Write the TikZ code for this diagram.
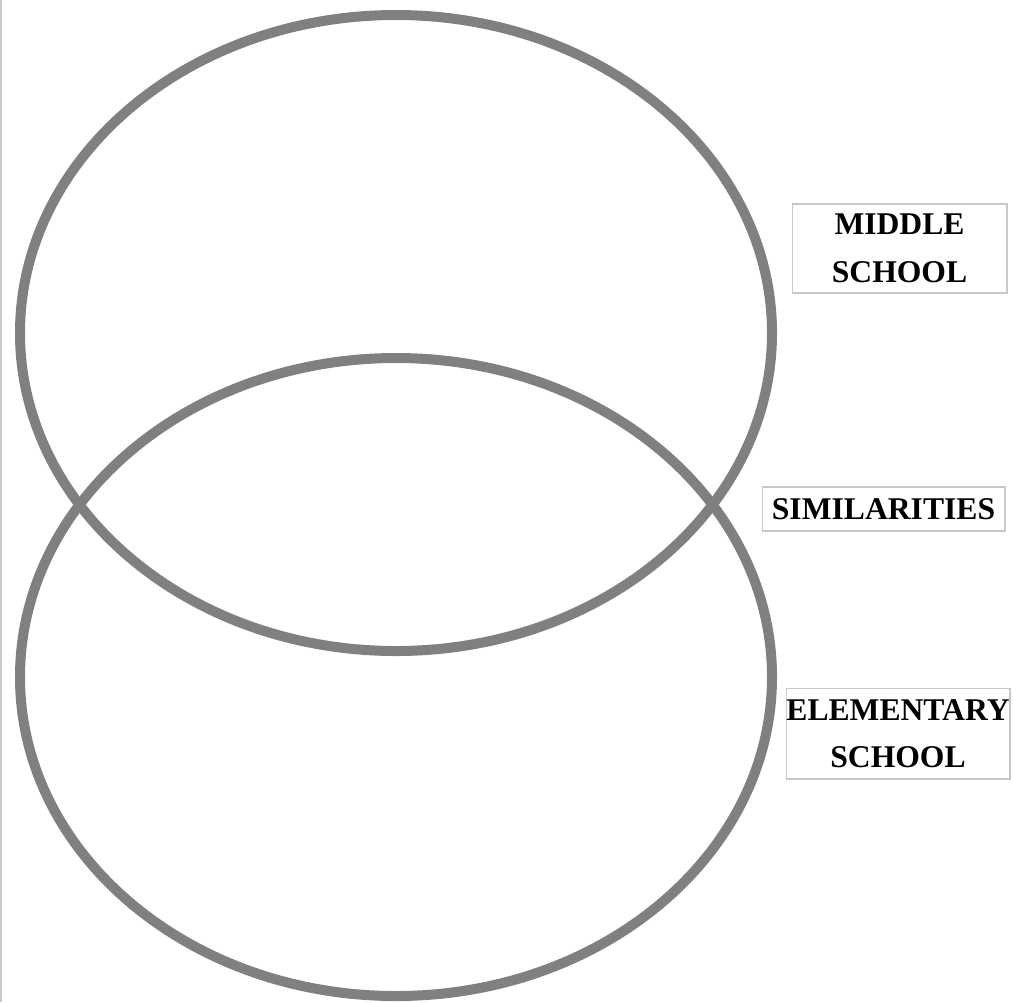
\documentclass[tikz,border=0pt]{standalone}
\usepackage{fontspec}
\setmainfont{Liberation Serif}
\definecolor{vennGray}{HTML}{808080}
\definecolor{boxGray}{HTML}{C8C8C8}
\usepackage{tikz}
\usetikzlibrary{positioning}

\begin{document}
\begin{tikzpicture}[x=0.02cm, y=-0.02cm,
	ring/.style={draw=vennGray, line width=0.2cm},
	tag/.style={draw=boxGray, line width=0.6pt, inner sep=0pt, align=center,
		font=\fontsize{18}{27}\selectfont\bfseries, text=black}]
		\useasboundingbox (0,0) rectangle (1013,1002);
		\draw[boxGray, line width=0.8pt] (1,0) -- (1,1002);
		\draw[ring] (396,333) ellipse [x radius=376, y radius=318];
		\draw[ring] (396,677) ellipse [x radius=376, y radius=319];
		\node[tag, minimum width=4.3cm, minimum height=1.78cm] (middle) at (899.5,248.5) {MIDDLE\\SCHOOL};
		\node[tag, minimum width=4.86cm, minimum height=0.88cm] (similar) at (883.5,509) {SIMILARITIES};
		\node[tag, minimum width=4.48cm, minimum height=1.82cm] (elem) at (898,733.5) {ELEMENTARY\\SCHOOL};
	\end{tikzpicture}
\end{document}
